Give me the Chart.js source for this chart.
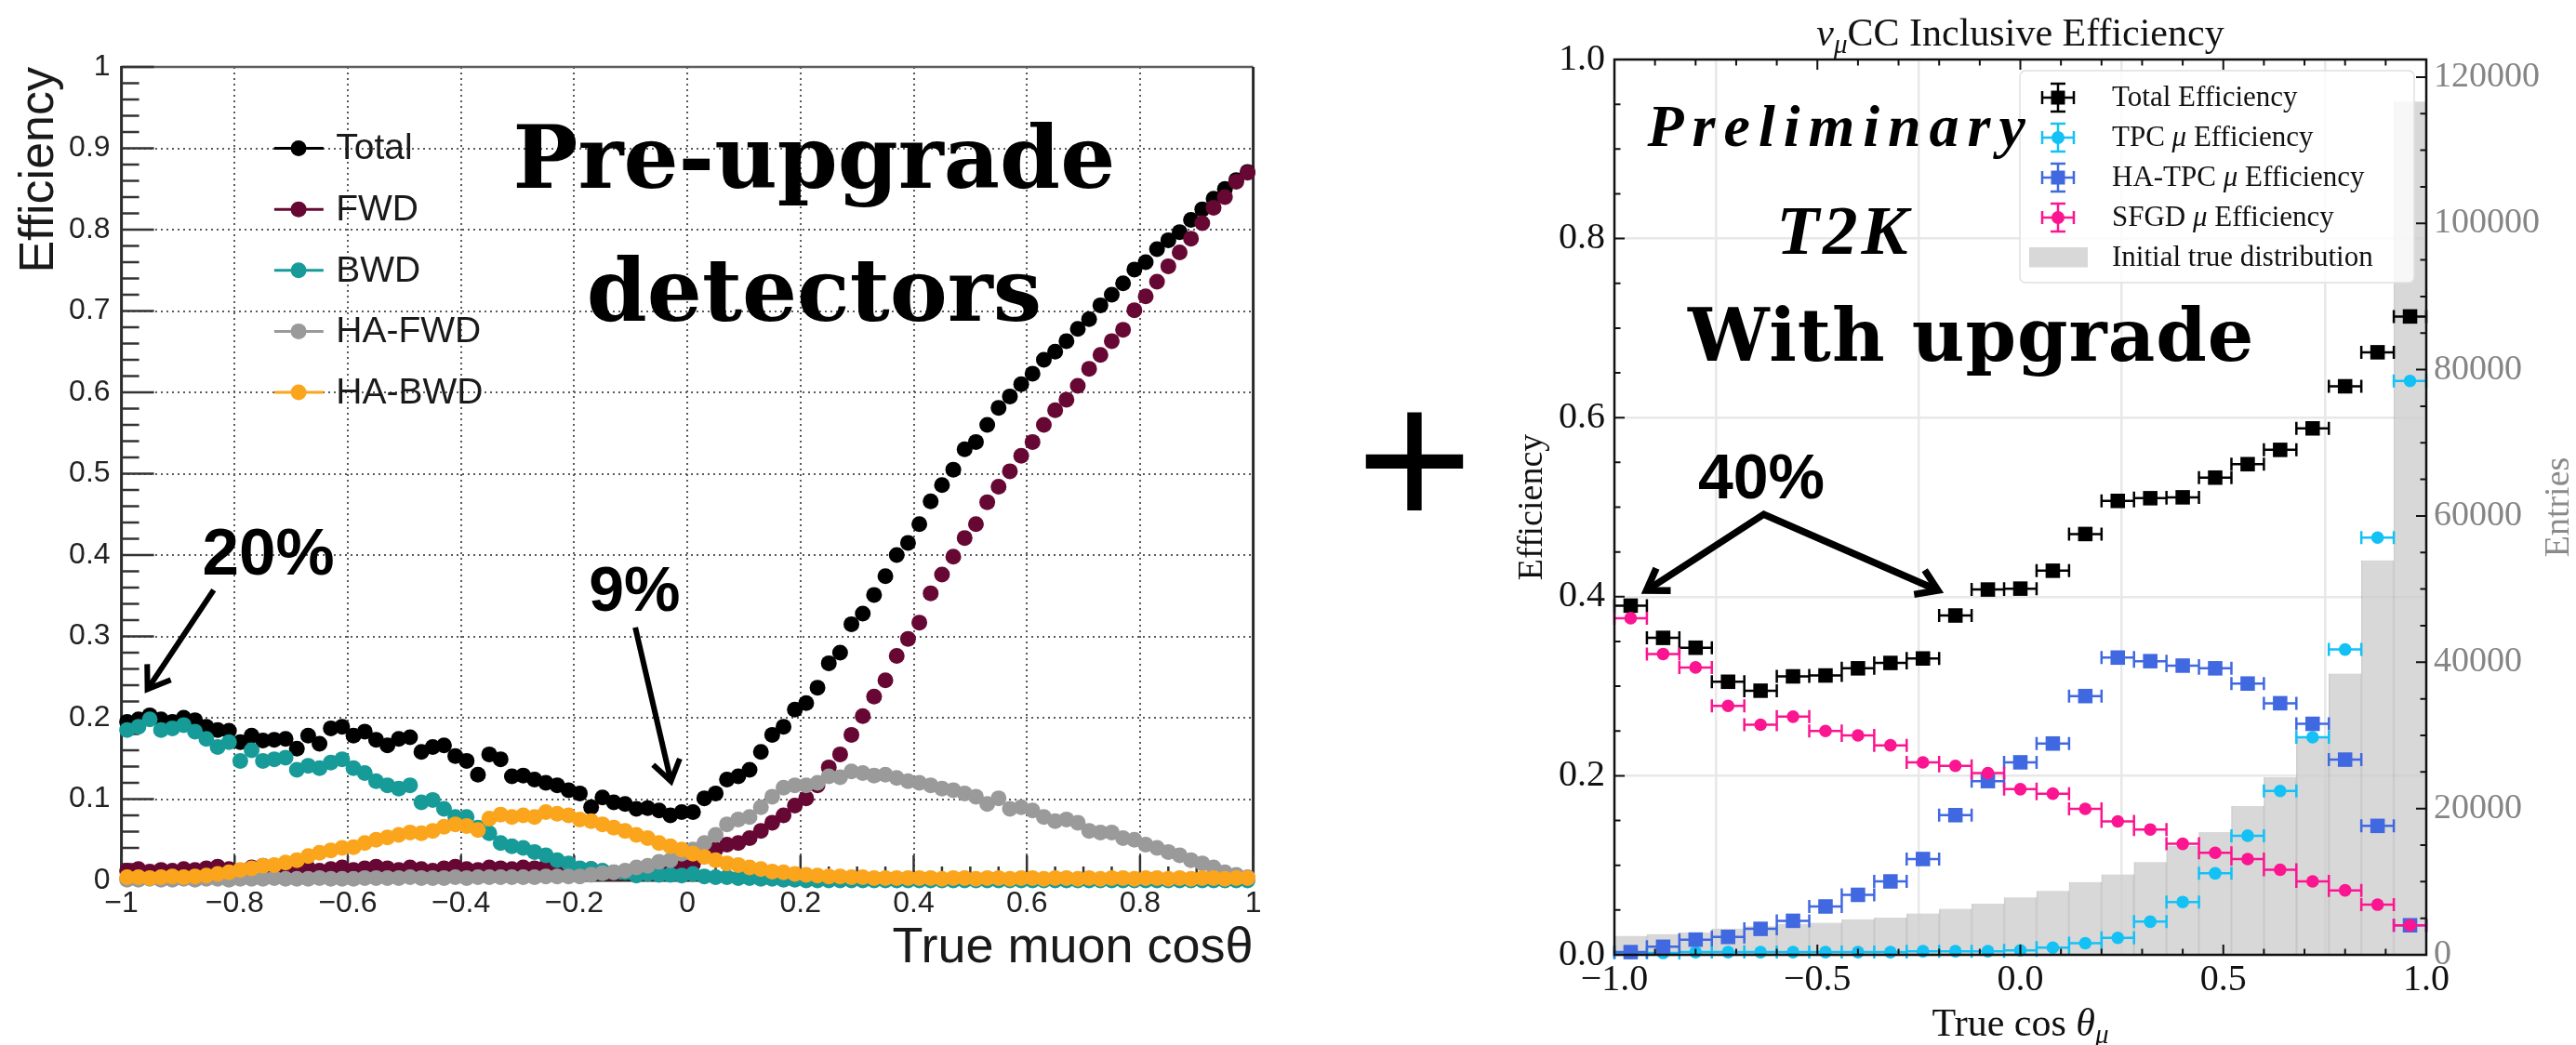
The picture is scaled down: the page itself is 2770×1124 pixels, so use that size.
<!DOCTYPE html>
<html>
<head>
<meta charset="utf-8">
<script src="https://cdn.jsdelivr.net/npm/chart.js@4.4.1/dist/chart.umd.min.js"></script>
<style>
  html, body { margin: 0; padding: 0; background: #ffffff; }
  #wrap { position: relative; width: 2770px; height: 1124px; overflow: hidden; background: #ffffff; }
  #left { position: absolute; left: 0; top: 0; }
  #right { position: absolute; left: 1600px; top: 0; }
</style>
</head>
<body>
<div id="wrap">
  <canvas id="left" width="1600" height="1124"></canvas>
  <canvas id="right" width="1170" height="1124"></canvas>
</div>
<script>
// ---------- Pre-upgrade detectors: efficiency vs true muon cos(theta), 100 bins ----------
const LEFT_BIN_WIDTH = 0.02;
const LEFT_BIN_CENTERS = Array.from({ length: 100 }, (_, i) => +(-1 + LEFT_BIN_WIDTH * (i + 0.5)).toFixed(2));

const TOTAL = [
  0.195,0.198,0.203,0.198,0.195,0.200,0.197,0.189,0.185,0.184,
  0.170,0.178,0.172,0.173,0.174,0.162,0.178,0.168,0.187,0.189,
  0.178,0.183,0.173,0.166,0.174,0.176,0.158,0.164,0.166,0.153,
  0.147,0.130,0.155,0.149,0.128,0.129,0.124,0.120,0.117,0.111,
  0.107,0.090,0.102,0.096,0.094,0.088,0.089,0.086,0.080,0.084,
  0.084,0.101,0.107,0.124,0.128,0.136,0.158,0.179,0.189,0.210,
  0.218,0.237,0.267,0.280,0.315,0.328,0.351,0.374,0.400,0.415,
  0.438,0.466,0.486,0.505,0.530,0.539,0.560,0.581,0.595,0.610,
  0.623,0.640,0.650,0.663,0.678,0.690,0.707,0.720,0.734,0.751,
  0.760,0.776,0.787,0.797,0.812,0.825,0.838,0.850,0.861,0.871
];
const FWD = [
  0.012,0.014,0.011,0.013,0.012,0.014,0.013,0.015,0.017,0.014,
  0.012,0.016,0.018,0.014,0.012,0.013,0.015,0.012,0.014,0.016,
  0.013,0.015,0.017,0.015,0.013,0.016,0.014,0.012,0.015,0.017,
  0.014,0.013,0.016,0.015,0.014,0.016,0.015,0.017,0.015,0.013,
  0.012,0.014,0.010,0.009,0.011,0.008,0.010,0.012,0.019,0.021,
  0.020,0.033,0.038,0.044,0.046,0.052,0.061,0.071,0.080,0.092,
  0.101,0.117,0.139,0.155,0.179,0.202,0.226,0.246,0.276,0.297,
  0.317,0.353,0.376,0.398,0.421,0.438,0.465,0.484,0.503,0.522,
  0.539,0.560,0.578,0.591,0.608,0.629,0.646,0.663,0.677,0.701,
  0.718,0.736,0.755,0.772,0.789,0.808,0.827,0.840,0.859,0.870
];
const BWD = [
  0.185,0.189,0.198,0.185,0.187,0.191,0.183,0.174,0.164,0.170,
  0.147,0.160,0.147,0.149,0.151,0.136,0.141,0.138,0.145,0.149,
  0.138,0.132,0.122,0.117,0.113,0.117,0.096,0.099,0.088,0.078,
  0.078,0.065,0.058,0.046,0.042,0.040,0.035,0.031,0.025,0.021,
  0.015,0.014,0.012,0.010,0.010,0.006,0.008,0.007,0.007,0.006,
  0.008,0.005,0.004,0.004,0.003,0.003,0.002,0.002,0.001,0.001,
  0,0,0,0,0,0,0,0,0,0,
  0,0,0,0,0,0,0,0,0,0,
  0,0,0,0,0,0,0,0,0,0,
  0,0,0,0,0,0,0,0,0,0
];
const HA_FWD = [
  0.001,0.001,0.002,0.001,0.001,0.002,0.001,0.002,0.002,0.001,
  0.002,0.002,0.002,0.003,0.002,0.002,0.002,0.003,0.002,0.002,
  0.002,0.003,0.003,0.003,0.003,0.004,0.003,0.003,0.003,0.004,
  0.003,0.004,0.004,0.004,0.004,0.004,0.004,0.005,0.005,0.005,
  0.005,0.007,0.009,0.010,0.012,0.016,0.018,0.023,0.025,0.033,
  0.038,0.046,0.056,0.069,0.075,0.078,0.090,0.103,0.114,0.117,
  0.117,0.120,0.128,0.127,0.134,0.132,0.129,0.130,0.126,0.122,
  0.120,0.117,0.113,0.111,0.107,0.103,0.094,0.101,0.088,0.090,
  0.086,0.078,0.073,0.075,0.071,0.061,0.059,0.059,0.052,0.050,
  0.044,0.040,0.035,0.031,0.025,0.021,0.016,0.010,0.007,0.004
];
const HA_BWD = [
  0.004,0.004,0.003,0.004,0.005,0.004,0.005,0.006,0.008,0.010,
  0.013,0.015,0.018,0.019,0.022,0.025,0.030,0.034,0.037,0.040,
  0.041,0.046,0.050,0.053,0.056,0.059,0.058,0.061,0.066,0.069,
  0.067,0.062,0.076,0.081,0.078,0.080,0.078,0.084,0.082,0.080,
  0.075,0.073,0.069,0.065,0.061,0.056,0.052,0.046,0.042,0.038,
  0.033,0.029,0.025,0.021,0.019,0.016,0.014,0.011,0.010,0.008,
  0.007,0.006,0.005,0.005,0.004,0.004,0.003,0.003,0.003,0.003,
  0.003,0.003,0.002,0.003,0.003,0.002,0.003,0.003,0.002,0.003,
  0.003,0.002,0.003,0.003,0.002,0.003,0.002,0.003,0.003,0.002,
  0.003,0.003,0.002,0.003,0.002,0.003,0.003,0.002,0.003,0.003
];
const LEFT_LABELS = ['Total', 'FWD', 'BWD', 'HA-FWD', 'HA-BWD'];
const LEFT_COLORS = ['#000000', '#660833', '#169b98', '#9a9a9a', '#fba51c'];

// ---------- With upgrade: nu_mu CC inclusive efficiency, 25 bins ----------
const RIGHT_BIN_HALF = 0.04;
const RIGHT_BIN_CENTERS = [-0.96,-0.88,-0.80,-0.72,-0.64,-0.56,-0.48,-0.40,-0.32,-0.24,-0.16,-0.08,
  0.00,0.08,0.16,0.24,0.32,0.40,0.48,0.56,0.64,0.72,0.80,0.88,0.96];
const TOTAL_EFF = [0.390,0.354,0.343,0.305,0.295,0.311,0.312,0.320,0.326,0.331,0.379,0.408,0.409,
  0.429,0.470,0.507,0.510,0.511,0.533,0.548,0.564,0.588,0.635,0.673,0.713];
const TPC_EFF = [0.002,0.002,0.003,0.003,0.003,0.003,0.003,0.003,0.003,0.004,0.004,0.004,0.005,
  0.008,0.013,0.019,0.037,0.059,0.091,0.133,0.183,0.243,0.341,0.466,0.641];
const HATPC_EFF = [0.003,0.009,0.017,0.020,0.029,0.038,0.054,0.067,0.082,0.107,0.156,0.194,0.215,
  0.236,0.289,0.332,0.328,0.323,0.320,0.303,0.281,0.258,0.218,0.144,0.033];
const SFGD_EFF = [0.376,0.336,0.321,0.278,0.257,0.266,0.250,0.245,0.234,0.215,0.211,0.203,0.185,
  0.180,0.163,0.149,0.140,0.124,0.114,0.107,0.095,0.082,0.072,0.056,0.033];
const ENTRIES = [2580,2820,3050,3580,3900,4240,4380,4850,5080,5650,6280,6990,7840,
  8740,9960,11000,12670,14890,16790,20330,24270,29800,38450,53930,116650];
const ENTRIES_AXIS_MAX = 122400;
const ENTRIES_TICKS = [0, 20000, 40000, 60000, 80000, 100000, 120000];
const RIGHT_LABELS = ['Total Efficiency', 'TPC μ Efficiency', 'HA-TPC μ Efficiency', 'SFGD μ Efficiency', 'Initial true distribution'];

const toXY = (xs, ys) => xs.map((x, i) => ({ x, y: ys[i] }));
const MINUS = '\u2212';

function rootLabel(v) {
  const r = Math.round(v * 10) / 10;
  if (Math.abs(r) < 1e-9) return '0';
  const s = Number.isInteger(r) ? String(Math.abs(r)) : Math.abs(r).toFixed(1);
  return (r < 0 ? MINUS : '') + s;
}
function mplLabel(v) {
  const r = Math.round(v * 10) / 10;
  if (Math.abs(r) < 1e-9) return '0.0';
  return (r < 0 ? MINUS : '') + Math.abs(r).toFixed(1);
}

function arrow(ctx, x0, y0, x1, y1, head, ang, lw) {
  ctx.lineWidth = lw;
  ctx.lineCap = 'butt';
  ctx.lineJoin = 'miter';
  ctx.beginPath(); ctx.moveTo(x0, y0); ctx.lineTo(x1, y1); ctx.stroke();
  arrowHead(ctx, x0, y0, x1, y1, head, ang);
}
function arrowHead(ctx, x0, y0, x1, y1, head, ang) {
  const a = Math.atan2(y0 - y1, x0 - x1);
  ctx.beginPath();
  ctx.moveTo(x1 + head * Math.cos(a + ang), y1 + head * Math.sin(a + ang));
  ctx.lineTo(x1, y1);
  ctx.lineTo(x1 + head * Math.cos(a - ang), y1 + head * Math.sin(a - ang));
  ctx.stroke();
}
function drawRich(ctx, parts, x, y, align) {
  let total = 0;
  const widths = parts.map(p => { ctx.font = p.font; const w = ctx.measureText(p.text).width; total += w; return w; });
  let cx = align === 'center' ? x - total / 2 : (align === 'right' ? x - total : x);
  ctx.textAlign = 'left';
  parts.forEach((p, i) => { ctx.font = p.font; ctx.fillText(p.text, cx, y + (p.dy || 0)); cx += widths[i]; });
}
function muParts(label, size) {
  const pieces = label.split('μ');
  const parts = [];
  pieces.forEach((p, i) => {
    if (i > 0) parts.push({ text: 'μ', font: `italic ${size}px "Liberation Serif"` });
    if (p) parts.push({ text: p, font: `${size}px "Liberation Serif"` });
  });
  return parts;
}

// ---------- left panel decorations ----------
const leftDecor = {
  id: 'leftDecor',
  beforeDatasetsDraw(chart) {
    const { ctx, chartArea: ca, scales: { x, y } } = chart;
    ctx.save();
    ctx.strokeStyle = '#5c5c5c'; ctx.lineWidth = 2.5;
    ctx.beginPath(); ctx.moveTo(ca.left, ca.top); ctx.lineTo(ca.right, ca.top); ctx.stroke();
    ctx.strokeStyle = '#2a2a2a'; ctx.lineWidth = 3;
    ctx.beginPath(); ctx.moveTo(ca.right, ca.top); ctx.lineTo(ca.right, ca.bottom); ctx.stroke();
    ctx.beginPath(); ctx.moveTo(ca.left, ca.top - 1); ctx.lineTo(ca.left, ca.bottom); ctx.lineTo(ca.right, ca.bottom); ctx.stroke();
    ctx.strokeStyle = '#333333'; ctx.lineWidth = 2.5;
    ctx.beginPath();
    for (let k = 0; k <= 50; k++) {
      const py = y.getPixelForValue(k / 50);
      ctx.moveTo(ca.left, py); ctx.lineTo(ca.left + (k % 5 === 0 ? 35 : 19), py);
    }
    for (let k = 0; k <= 40; k++) {
      const px = x.getPixelForValue(-1 + k * 0.05);
      ctx.moveTo(px, ca.bottom); ctx.lineTo(px, ca.bottom - (k % 4 === 0 ? 27 : 15));
    }
    ctx.stroke();
    ctx.restore();
  },
  afterDraw(chart) {
    const { ctx, scales: { x, y } } = chart;
    ctx.save();
    // legend
    const rows = [0.9, 0.825, 0.75, 0.675, 0.6];
    chart.data.datasets.forEach((ds, k) => {
      const py = y.getPixelForValue(rows[k]);
      const xm = x.getPixelForValue(-0.687);
      ctx.strokeStyle = ds.backgroundColor; ctx.lineWidth = 3;
      ctx.beginPath(); ctx.moveTo(x.getPixelForValue(-0.730), py); ctx.lineTo(x.getPixelForValue(-0.643), py); ctx.stroke();
      ctx.fillStyle = ds.backgroundColor;
      ctx.beginPath(); ctx.arc(xm, py, 8.5, 0, Math.PI * 2); ctx.fill();
      ctx.fillStyle = '#1a1a1a';
      ctx.font = '39px "Liberation Sans"';
      ctx.textAlign = 'left'; ctx.textBaseline = 'middle';
      ctx.fillText(ds.label, x.getPixelForValue(-0.621), py + 1);
    });
    // headline
    ctx.fillStyle = '#000000';
    ctx.textBaseline = 'alphabetic';
    ctx.textAlign = 'center';
    ctx.font = 'bold 93px "DejaVu Serif"';
    ctx.fillText('Pre-upgrade', x.getPixelForValue(0.224), y.getPixelForValue(0.851));
    ctx.fillText('detectors', x.getPixelForValue(0.224), y.getPixelForValue(0.688));
    // callouts
    ctx.textAlign = 'left';
    ctx.font = 'bold 71px "Liberation Sans"';
    ctx.fillText('20%', x.getPixelForValue(-0.857), y.getPixelForValue(0.376));
    ctx.font = 'bold 68px "Liberation Sans"';
    ctx.fillText('9%', x.getPixelForValue(-0.174), y.getPixelForValue(0.331));
    ctx.strokeStyle = '#000000';
    arrow(ctx, x.getPixelForValue(-0.837), y.getPixelForValue(0.357), x.getPixelForValue(-0.954), y.getPixelForValue(0.235), 27, 0.6, 6);
    arrow(ctx, x.getPixelForValue(-0.092), y.getPixelForValue(0.311), x.getPixelForValue(-0.029), y.getPixelForValue(0.122), 26, 0.6, 6);
    // plus sign between the two panels
    ctx.textAlign = 'center'; ctx.textBaseline = 'middle';
    ctx.font = '215px "Liberation Sans"';
    ctx.fillText('+', 1521, 509);
    ctx.restore();
  }
};

new Chart(document.getElementById('left'), {
  type: 'scatter',
  data: {
    datasets: LEFT_LABELS.map((label, k) => ({
      label,
      data: toXY(LEFT_BIN_CENTERS, [TOTAL, FWD, BWD, HA_FWD, HA_BWD][k]),
      backgroundColor: LEFT_COLORS[k],
      borderColor: LEFT_COLORS[k],
      pointRadius: 8.5, pointHoverRadius: 8.5, pointBorderWidth: 0,
      clip: false,
      order: LEFT_LABELS.length - 1 - k
    }))
  },
  options: {
    responsive: false, animation: false, events: [],
    layout: { padding: { left: 0, top: 72, right: 1600 - 1347.6, bottom: 0 } },
    plugins: { legend: { display: false }, tooltip: { enabled: false } },
    scales: {
      x: {
        type: 'linear', min: -1, max: 1, offset: false,
        ticks: { stepSize: 0.2, padding: 6, color: '#222222', autoSkip: false, maxRotation: 0,
          font: { family: 'Liberation Sans', size: 32 }, callback: v => rootLabel(v) },
        grid: { color: '#5a5a5a', lineWidth: 2, drawTicks: false },
        border: { display: false, dash: [2, 4] },
        title: { display: true, text: 'True muon cosθ', align: 'end', color: '#1a1a1a',
          font: { family: 'Liberation Sans', size: 54 }, padding: { top: 0, bottom: 71 } },
        afterFit: s => { s.height = 177; }
      },
      y: {
        type: 'linear', min: 0, max: 1,
        ticks: { stepSize: 0.1, padding: 12, color: '#222222', autoSkip: false,
          font: { family: 'Liberation Sans', size: 32 }, callback: v => rootLabel(v) },
        grid: { color: '#5a5a5a', lineWidth: 2, drawTicks: false },
        border: { display: false, dash: [2, 4] },
        title: { display: true, text: 'Efficiency', align: 'end', color: '#1a1a1a',
          font: { family: 'Liberation Sans', size: 52 }, padding: { top: 11, bottom: 0 } },
        afterFit: s => { s.width = 130.6; }
      }
    }
  },
  plugins: [leftDecor]
});

// ---------- right panel decorations ----------
const rightDecor = {
  id: 'rightDecor',
  beforeDatasetDraw(chart, args) {
    const ds = chart.data.datasets[args.index];
    if (!ds.binHalfWidth) return;
    const { ctx, scales: { x } } = chart;
    ctx.save();
    ctx.strokeStyle = ds.backgroundColor; ctx.lineWidth = 2.5;
    ctx.beginPath();
    args.meta.data.forEach((el, j) => {
      const d = ds.data[j];
      const xl = x.getPixelForValue(d.x - ds.binHalfWidth), xr = x.getPixelForValue(d.x + ds.binHalfWidth);
      ctx.moveTo(xl, el.y); ctx.lineTo(xr, el.y);
      ctx.moveTo(xl, el.y - 7); ctx.lineTo(xl, el.y + 7);
      ctx.moveTo(xr, el.y - 7); ctx.lineTo(xr, el.y + 7);
    });
    ctx.stroke();
    ctx.restore();
  },
  afterDatasetsDraw(chart) {
    const { ctx, chartArea: ca, scales: { x, y, y2 } } = chart;
    ctx.save();
    // ticks (inward)
    ctx.strokeStyle = '#111111'; ctx.lineWidth = 2;
    ctx.beginPath();
    for (let k = 0; k <= 20; k++) {
      const py = y.getPixelForValue(k * 0.05);
      ctx.moveTo(ca.left, py); ctx.lineTo(ca.left + (k % 4 === 0 ? 11 : 6.5), py);
    }
    for (let k = 0; k <= 20; k++) {
      const px = x.getPixelForValue(-1 + k * 0.1);
      const len = k % 5 === 0 ? 11 : 6.5;
      ctx.moveTo(px, ca.bottom); ctx.lineTo(px, ca.bottom - len);
      ctx.moveTo(px, ca.top); ctx.lineTo(px, ca.top + len);
    }
    for (let k = 0; k * 5000 <= ENTRIES_AXIS_MAX; k++) {
      const py = y2.getPixelForValue(k * 5000);
      ctx.moveTo(ca.right, py); ctx.lineTo(ca.right - (k % 4 === 0 ? 11 : 6.5), py);
    }
    ctx.stroke();
    // frame
    ctx.lineWidth = 2.5; ctx.strokeStyle = '#111111';
    ctx.strokeRect(ca.left, ca.top, ca.right - ca.left, ca.bottom - ca.top);

    // legend
    const bx = ca.left + 436, by = ca.top + 12, bw = ca.right - 13 - bx, bh = 228;
    ctx.fillStyle = 'rgba(255,255,255,0.8)';
    ctx.strokeStyle = '#e0e0e0'; ctx.lineWidth = 1.5;
    ctx.beginPath(); ctx.roundRect(bx, by, bw, bh, 6); ctx.fill(); ctx.stroke();
    const mx = ca.left + 477, tx = ca.left + 535;
    const rowsY = [41, 84, 127, 170, 213].map(v => ca.top + v);
    const sets = chart.data.datasets;
    const order = [1, 2, 3, 4, 0];
    order.forEach((di, r) => {
      const ds = sets[di];
      const py = rowsY[r];
      if (ds.type === 'bar') {
        ctx.fillStyle = ds.backgroundColor;
        ctx.fillRect(ca.left + 446, py - 11, 63, 21.5);
      } else {
        ctx.strokeStyle = ds.backgroundColor; ctx.lineWidth = 2.5;
        ctx.beginPath();
        ctx.moveTo(mx - 17, py); ctx.lineTo(mx + 17, py);
        ctx.moveTo(mx - 17, py - 7); ctx.lineTo(mx - 17, py + 7);
        ctx.moveTo(mx + 17, py - 7); ctx.lineTo(mx + 17, py + 7);
        ctx.moveTo(mx, py - 15); ctx.lineTo(mx, py + 15);
        ctx.moveTo(mx - 8, py - 15); ctx.lineTo(mx + 8, py - 15);
        ctx.moveTo(mx - 8, py + 15); ctx.lineTo(mx + 8, py + 15);
        ctx.stroke();
        ctx.fillStyle = ds.backgroundColor;
        if (ds.pointStyle === 'rect') ctx.fillRect(mx - 7.5, py - 7.5, 15, 15);
        else { ctx.beginPath(); ctx.arc(mx, py, 7, 0, Math.PI * 2); ctx.fill(); }
      }
      ctx.fillStyle = '#111111'; ctx.textBaseline = 'middle';
      drawRich(ctx, muParts(ds.label, 31), tx, py + 1, 'left');
    });
    ctx.restore();
  },
  afterDraw(chart) {
    const { ctx, chartArea: ca, scales: { x, y } } = chart;
    const cx = (ca.left + ca.right) / 2;
    ctx.save();
    ctx.fillStyle = '#111111';
    ctx.textBaseline = 'alphabetic';
    // plot title
    drawRich(ctx, [
      { text: 'ν', font: 'italic 42px "Liberation Serif"' },
      { text: 'μ', font: 'italic 29px "Liberation Serif"', dy: 8 },
      { text: 'CC Inclusive Efficiency', font: '42px "Liberation Serif"' }
    ], cx, ca.top - 15, 'center');
    // x-axis title
    drawRich(ctx, [
      { text: 'True cos ', font: '42px "Liberation Serif"' },
      { text: 'θ', font: 'italic 42px "Liberation Serif"' },
      { text: 'μ', font: 'italic 29px "Liberation Serif"', dy: 8 }
    ], cx, 1114, 'center');
    // secondary y-axis title
    ctx.save();
    ctx.translate(ca.right + 143, (ca.top + ca.bottom) / 2);
    ctx.rotate(-Math.PI / 2);
    ctx.fillStyle = '#8a8a8a'; ctx.textAlign = 'center'; ctx.textBaseline = 'middle';
    ctx.font = '38px "Liberation Serif"';
    ctx.fillText('Entries', 0, 0);
    ctx.restore();

    // overlay captions
    ctx.fillStyle = '#000000';
    ctx.textAlign = 'center'; ctx.textBaseline = 'alphabetic';
    ctx.letterSpacing = '9px';
    ctx.font = 'italic bold 64px "Liberation Serif"';
    ctx.fillText('Preliminary', x.getPixelForValue(-0.452) + 4, y.getPixelForValue(0.903));
    ctx.letterSpacing = '4px';
    ctx.font = 'italic bold 75px "Liberation Serif"';
    ctx.fillText('T2K', x.getPixelForValue(-0.439) + 2, y.getPixelForValue(0.783));
    ctx.letterSpacing = '1px';
    ctx.font = 'bold 78px "DejaVu Serif"';
    ctx.fillText('With upgrade', x.getPixelForValue(-0.121), y.getPixelForValue(0.664));
    ctx.letterSpacing = '0px';
    ctx.textAlign = 'left';
    ctx.font = 'bold 68px "Liberation Sans"';
    ctx.fillText('40%', x.getPixelForValue(-0.794), y.getPixelForValue(0.510));
    // double arrow from the 40% caption
    const ax = x.getPixelForValue(-0.632), ay = y.getPixelForValue(0.492);
    const lx = x.getPixelForValue(-0.921), ly = y.getPixelForValue(0.407);
    const rx = x.getPixelForValue(-0.203), ry = y.getPixelForValue(0.407);
    ctx.strokeStyle = '#000000'; ctx.lineWidth = 7.5; ctx.lineJoin = 'miter'; ctx.lineCap = 'butt';
    ctx.beginPath(); ctx.moveTo(lx, ly); ctx.lineTo(ax, ay); ctx.lineTo(rx, ry); ctx.stroke();
    arrowHead(ctx, ax, ay, lx, ly, 26, 0.58);
    arrowHead(ctx, ax, ay, rx, ry, 26, 0.58);
    ctx.restore();
  }
};

const serif = size => ({ family: 'Liberation Serif', size });
const RIGHT_STYLE = [
  { color: '#000000', style: 'rect', r: 11 },
  { color: '#13c1f5', style: 'circle', r: 6.8 },
  { color: '#4068e0', style: 'rect', r: 11 },
  { color: '#fb1590', style: 'circle', r: 6.8 }
];
const RIGHT_SERIES = [TOTAL_EFF, TPC_EFF, HATPC_EFF, SFGD_EFF];

new Chart(document.getElementById('right'), {
  type: 'scatter',
  data: {
    datasets: [
      {
        type: 'bar', label: RIGHT_LABELS[4], data: toXY(RIGHT_BIN_CENTERS, ENTRIES), yAxisID: 'y2',
        backgroundColor: 'rgba(205,205,205,0.78)', borderColor: 'rgba(150,150,150,0.45)',
        borderWidth: { left: 1, right: 1, top: 0, bottom: 0 }, borderSkipped: false,
        barPercentage: 1, categoryPercentage: 1, order: 10
      },
      ...RIGHT_SERIES.map((vals, k) => ({
        label: RIGHT_LABELS[k], data: toXY(RIGHT_BIN_CENTERS, vals), yAxisID: 'y',
        backgroundColor: RIGHT_STYLE[k].color, borderColor: RIGHT_STYLE[k].color,
        pointStyle: RIGHT_STYLE[k].style, pointRadius: RIGHT_STYLE[k].r, pointHoverRadius: RIGHT_STYLE[k].r,
        pointBorderWidth: 0, clip: false, binHalfWidth: RIGHT_BIN_HALF,
        order: 4 - k
      }))
    ]
  },
  options: {
    responsive: false, animation: false, events: [],
    layout: { padding: { left: 0, top: 64, right: 0, bottom: 0 } },
    plugins: { legend: { display: false }, tooltip: { enabled: false } },
    scales: {
      x: {
        type: 'linear', min: -1, max: 1, offset: false,
        ticks: { stepSize: 0.5, padding: 3, color: '#111111', autoSkip: false, maxRotation: 0,
          font: serif(40), callback: v => mplLabel(v) },
        grid: { color: '#e8e8e8', lineWidth: 2.5, drawTicks: false },
        border: { display: false },
        afterFit: s => { s.height = 97; }
      },
      y: {
        type: 'linear', position: 'left', min: 0, max: 1,
        ticks: { stepSize: 0.2, padding: 10, color: '#111111', autoSkip: false,
          font: serif(40), callback: v => mplLabel(v) },
        grid: { color: '#e8e8e8', lineWidth: 2.5, drawTicks: false },
        border: { display: false },
        title: { display: true, text: 'Efficiency', color: '#111111', font: serif(38), padding: { top: 25, bottom: 0 } },
        afterFit: s => { s.width = 136; }
      },
      y2: {
        type: 'linear', position: 'right', min: 0, max: ENTRIES_AXIS_MAX,
        ticks: { padding: 8, color: '#858585', autoSkip: false,
          font: serif(38), callback: v => String(v) },
        afterBuildTicks: s => { s.ticks = ENTRIES_TICKS.map(value => ({ value })); },
        grid: { display: false, drawTicks: false },
        border: { display: false },
        afterFit: s => { s.width = 161; }
      }
    }
  },
  plugins: [rightDecor]
});
</script>
</body>
</html>
